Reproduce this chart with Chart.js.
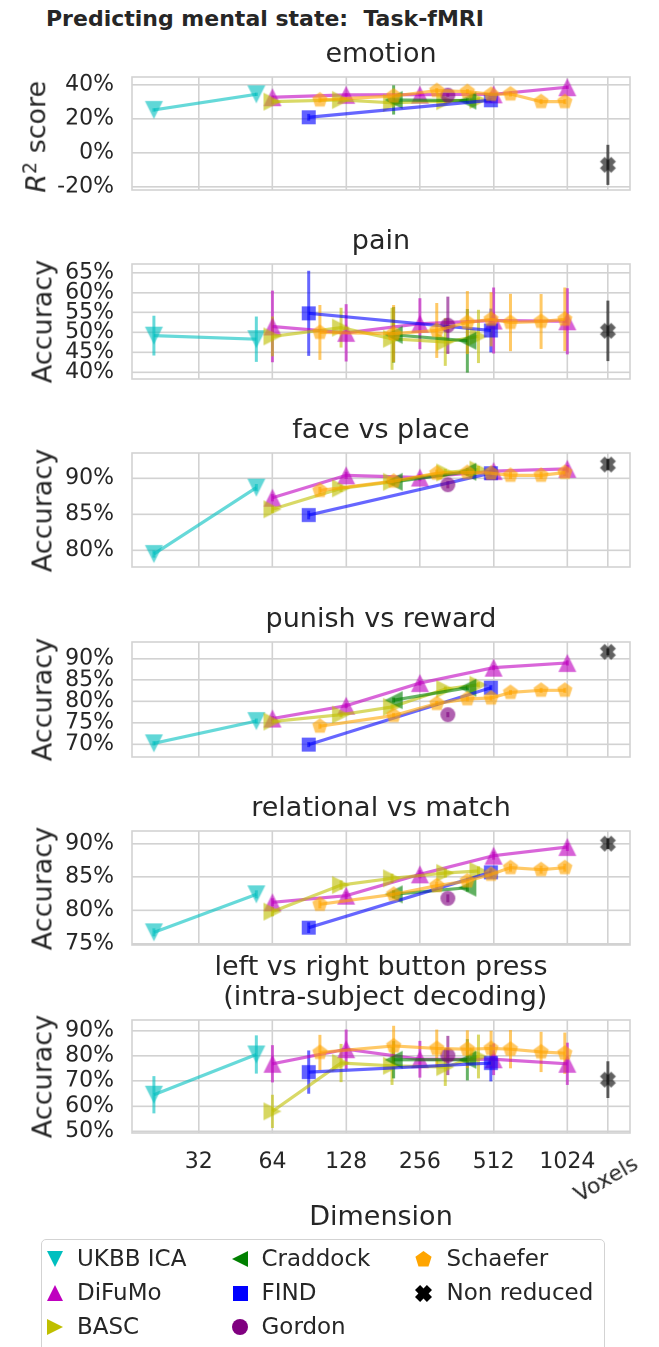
<!DOCTYPE html>
<html>
<head>
<meta charset="utf-8">
<script src="https://cdn.jsdelivr.net/npm/chart.js@4.4.1/dist/chart.umd.min.js"></script>
<style>
  body { margin: 0; background: #fff; }
  #page { position: relative; width: 659px; height: 1347px; overflow: hidden; font-family: "DejaVu Sans"; color: #262626; }
  #page canvas { position: absolute; left: 0; }
  .txt { position: absolute; white-space: nowrap; }
  #legend { position: absolute; left: 41px; top: 1239px; width: 562px; height: 140px; border: 1.5px solid #d3d3d3; border-radius: 5px; }
</style>
</head>
<body>
<div id="page"></div>
<script>
// ---- data ----
const tasks = ["emotion", "pain", "face vs place", "punish vs reward", "relational vs match",
               "left vs right button press\n (intra-subject decoding)"];
const yTitles = ["<i>R</i><sup style='font-size:0.7em;vertical-align:0.5em'>2</sup> score",
                 "Accuracy", "Accuracy", "Accuracy", "Accuracy", "Accuracy"];
const yTicks = [[-20, 0, 20, 40], [40, 45, 50, 55, 60, 65], [80, 85, 90],
                [70, 75, 80, 85, 90], [75, 80, 85, 90], [50, 60, 70, 80, 90]];
const xTickDims = [32, 64, 128, 256, 512, 1024];
const voxelsLabel = "Voxels";

const ukbbDims = [21, 55];
const ukbbVals = [[25.3, 34.5], [49.2, 48.3], [79.5, 88.7], [70.2, 75.4], [76.7, 82.4], [64.5, 80.5]];
const ukbbErrs = [[1, 1], [5.0, 5.7], [0.5, 0.5], [0.5, 0.6], [0.6, 0.6], [7.4, 7.6]];

const difumoDims = [64, 128, 256, 512, 1024];
const difumoVals = [[32.8, 34.2, 34.3, 34.5, 38.7], [51.5, 49.9, 52.2, 53.0, 52.8], [87.3, 90.4, 90.1, 91.0, 91.3],
                    [76.0, 79.0, 84.3, 87.9, 89.0], [81.2, 82.2, 85.4, 88.2, 89.5], [76.8, 82.6, 78.6, 78.6, 76.8]];
const difumoErrs = [[1, 1, 1, 1, 1], [9, 7.2, 6.4, 8.3, 8.3], [0.5, 0.5, 0.5, 0.5, 0.5],
                    [0.6, 0.6, 0.6, 0.6, 0.6], [0.6, 0.6, 0.6, 0.6, 0.6], [7.4, 7.8, 7.3, 6.3, 8.4]];

const bascDims = [64, 122, 197, 325, 444];
const bascVals = [[30.2, 31.2, 29.5, 30.5, 31.2], [49.0, 51.2, 48.4, 47.6, 49.0], [85.7, 88.6, 89.5, 90.8, 91.2],
                  [75.3, 76.9, 78.7, 82.9, 83.9], [79.8, 83.8, 84.8, 85.6, 85.9], [57.9, 77.1, 76.0, 75.5, 79.7]];
const bascErrs = [[1.5, 1.5, 1.5, 1.5, 1.5], [5, 5, 7.8, 6, 6.7], [0.5, 0.5, 0.5, 0.5, 0.5],
                  [0.6, 0.6, 0.6, 0.6, 0.6], [0.7, 0.7, 0.7, 0.7, 0.7], [6.6, 7.6, 7.6, 7.5, 8.7]];

const craddockDims = [200, 400];
const craddockVals = [[31.2, 30.8], [49.4, 47.9], [89.5, 90.9], [80.3, 83.2], [82.4, 83.4], [78.4, 78.4]];
const craddockErrs = [[8.6, 1.5], [7, 8], [0.5, 0.5], [0.6, 0.6], [0.6, 0.6], [7.4, 8.2]];

const findDims = [90, 499];
const findVals = [[21, 31], [54.8, 50.5], [84.9, 90.7], [69.9, 83.2], [77.4, 85.7], [73.5, 77.1]];
const findErrs = [[2, 1.5], [10.7, 5.5], [0.6, 0.5], [0.6, 0.6], [0.8, 0.6], [8.6, 7.3]];

const gordonDims = [333];
const gordonVals = [[34], [51.8], [89.1], [76.9], [81.8], [80.1]];
const gordonErrs = [[1], [7.2], [0.5], [0.6], [0.6], [7.8]];

const schaeferDims = [100, 200, 300, 400, 500, 600, 800, 1000];
const schaeferVals = [[31.2, 33.5, 36.7, 36.1, 34.5, 34.7, 30.2, 30.2],
                      [50.0, 49.7, 50.5, 52.5, 53.3, 52.5, 52.75, 53.3],
                      [88.3, 89.6, 90.7, 90.8, 90.7, 90.4, 90.4, 90.8],
                      [74.2, 76.7, 79.5, 80.6, 80.8, 82.1, 82.6, 82.6],
                      [80.9, 82.4, 83.7, 84.4, 85.4, 86.4, 86.1, 86.4],
                      [81.3, 83.9, 82.9, 82.6, 82.9, 82.6, 81.5, 81.0]];
const schaeferErrs = [[1.5, 1.5, 1.5, 1.5, 1.5, 1.5, 1.5, 1.5], [6.9, 7.2, 6.9, 7.9, 6.8, 7.2, 6.9, 8],
                      [0.5, 0.5, 0.5, 0.5, 0.5, 0.5, 0.5, 0.5], [0.6, 0.6, 0.6, 0.6, 0.6, 0.6, 0.6, 0.6],
                      [0.6, 0.6, 0.6, 0.6, 0.6, 0.6, 0.6, 0.6], [7, 8, 7.5, 7.5, 7, 7.6, 8, 8.2]];

const nonReducedVals = [-7, 50.4, 91.9, 91.6, 90.0, 70.5];
const nonReducedErrs = [11.8, 7.6, 0.8, 0.8, 0.8, 7.3];

// ---- styling ----
const series = [
  { name: "UKBB ICA", dims: ukbbDims, vals: ukbbVals, errs: ukbbErrs, rgb: "0,191,191", shape: "v" },
  { name: "DiFuMo", dims: difumoDims, vals: difumoVals, errs: difumoErrs, rgb: "191,0,191", shape: "^" },
  { name: "BASC", dims: bascDims, vals: bascVals, errs: bascErrs, rgb: "191,191,0", shape: ">" },
  { name: "Craddock", dims: craddockDims, vals: craddockVals, errs: craddockErrs, rgb: "0,128,0", shape: "<" },
  { name: "FIND", dims: findDims, vals: findVals, errs: findErrs, rgb: "0,0,255", shape: "s" },
  { name: "Gordon", dims: gordonDims, vals: gordonVals, errs: gordonErrs, rgb: "128,0,128", shape: "o" },
  { name: "Schaefer", dims: schaeferDims, vals: schaeferVals, errs: schaeferErrs, rgb: "255,165,0", shape: "p" },
  { name: "Non reduced", dims: null, vals: nonReducedVals.map(v => [v]), errs: nonReducedErrs.map(v => [v]), rgb: "0,0,0", shape: "X" }
];
const markerSize = { v: 18, "^": 18, ">": 18, "<": 18, s: 14, o: 15, p: 16, X: 16 };
const legendSize = { v: 16, "^": 16, ">": 16, "<": 16, s: 15, o: 16, p: 17, X: 17 };

const voxelsPos = 10.55;            // where "Voxels" sits on the log2 axis
const xMin = 4.095, xMax = 10.85;
const yRanges = [[-21.8, 44.7], [38.3, 67.2], [77.7, 93.5], [67.0, 93.9], [74.8, 91.9], [49.3, 94.2]];
const boxes = [[77, 190], [264, 379], [453, 567], [642, 757], [831, 945], [1020, 1133]];
const gridColor = "#d2d2d2";

Chart.defaults.font.family = "DejaVu Sans";

const page = document.getElementById("page");

function drawShape(g, shape, cx, cy, size) {
  const h = size / 2;
  g.beginPath();
  if (shape === "v") { g.moveTo(cx - h, cy - h); g.lineTo(cx + h, cy - h); g.lineTo(cx, cy + h); }
  else if (shape === "^") { g.moveTo(cx - h, cy + h); g.lineTo(cx + h, cy + h); g.lineTo(cx, cy - h); }
  else if (shape === ">") { g.moveTo(cx - h, cy - h); g.lineTo(cx - h, cy + h); g.lineTo(cx + h, cy); }
  else if (shape === "<") { g.moveTo(cx + h, cy - h); g.lineTo(cx + h, cy + h); g.lineTo(cx - h, cy); }
  else if (shape === "s") { g.rect(cx - h, cy - h, size, size); }
  else if (shape === "o") { g.arc(cx, cy, h, 0, Math.PI * 2); }
  else if (shape === "p") {
    for (let k = 0; k < 5; k++) {
      const a = -Math.PI / 2 + k * 2 * Math.PI / 5;
      k ? g.lineTo(cx + h * Math.cos(a), cy + h * Math.sin(a)) : g.moveTo(cx + h * Math.cos(a), cy + h * Math.sin(a));
    }
  } else if (shape === "X") {
    const w = size * 0.3;
    const pts = [[-h, -h + w], [-h + w, -h], [0, -w], [h - w, -h], [h, -h + w], [w, 0],
                 [h, h - w], [h - w, h], [0, w], [-h + w, h], [-h, h - w], [-w, 0]];
    pts.forEach((p, i) => i ? g.lineTo(cx + p[0], cy + p[1]) : g.moveTo(cx + p[0], cy + p[1]));
  }
  g.closePath();
  g.fill();
}

function markerCanvas(shape, color, size) {
  const c = document.createElement("canvas");
  const S = Math.ceil(size + 4);
  c.width = c.height = S;
  const g = c.getContext("2d");
  g.fillStyle = color;
  drawShape(g, shape, S / 2, S / 2, size);
  return c;
}

const errorBars = {
  id: "errorBars",
  beforeDatasetsDraw(chart) {
    const { ctx, chartArea: a, scales: { x, y } } = chart;
    ctx.save();
    // frame
    ctx.strokeStyle = gridColor;
    ctx.lineWidth = 1.6;
    ctx.strokeRect(a.left, a.top, a.width, a.height);
    ctx.beginPath();
    ctx.rect(a.left, a.top, a.width, a.height);
    ctx.clip();
    chart.data.datasets.forEach(ds => {
      ctx.strokeStyle = ds.borderColor;
      ctx.lineWidth = 3;
      ds.data.forEach((pt, j) => {
        const e = ds.errs[j];
        const px = x.getPixelForValue(pt.x);
        ctx.beginPath();
        ctx.moveTo(px, y.getPixelForValue(pt.y - e));
        ctx.lineTo(px, y.getPixelForValue(pt.y + e));
        ctx.stroke();
      });
    });
    ctx.restore();
  }
};

function addText(html, x, baseline, size, opts = {}) {
  const d = document.createElement("div");
  d.className = "txt";
  d.innerHTML = html;
  d.style.fontSize = size + "px";
  d.style.lineHeight = size + "px";
  if (opts.bold) d.style.fontWeight = "bold";
  d.style.top = (baseline - 0.846 * size) + "px";
  if (opts.align === "left") d.style.left = x + "px";
  else { d.style.left = (x - 400) + "px"; d.style.width = "800px"; d.style.textAlign = "center"; }
  page.appendChild(d);
  return d;
}

function addRotated(html, cx, cy, size, deg) {
  const d = document.createElement("div");
  d.className = "txt";
  d.innerHTML = html;
  d.style.fontSize = size + "px";
  d.style.lineHeight = size + "px";
  d.style.width = "300px";
  d.style.textAlign = "center";
  d.style.left = (cx - 150) + "px";
  d.style.top = (cy - size / 2) + "px";
  d.style.transform = "rotate(" + deg + "deg)";
  page.appendChild(d);
}

addText("Predicting mental state:&nbsp; Task-fMRI", 46, 27, 22, { align: "left", bold: true });

tasks.forEach((task, p) => {
  const [T, B] = boxes[p];
  const last = p === tasks.length - 1;
  const extra = last ? 44 : 0;
  const top = T - 10;
  const h = B - top + 10 + extra;
  const cv = document.createElement("canvas");
  cv.style.top = top + "px";
  cv.style.width = "659px";
  cv.style.height = h + "px";
  cv.width = 659; cv.height = h;
  page.appendChild(cv);

  const datasets = series.map((s, i) => {
    const xs = s.dims ? s.dims.map(d => Math.log2(d)) : [voxelsPos];
    const col = "rgba(" + s.rgb + ",0.6)";
    return {
      label: s.name,
      data: xs.map((xv, j) => ({ x: xv, y: s.vals[p][j] })),
      errs: s.errs[p],
      borderColor: col,
      borderWidth: 3.2,
      pointStyle: markerCanvas(s.shape, "rgba(" + s.rgb + ",0.62)", markerSize[s.shape]),
      pointRadius: 9,
      pointBorderWidth: 0,
      showLine: xs.length > 1,
      fill: false,
      tension: 0,
      order: series.length - i
    };
  });

  new Chart(cv, {
    type: "line",
    data: { datasets },
    options: {
      responsive: false,
      animation: false,
      devicePixelRatio: 2,
      layout: { padding: { left: 0, right: 29, top: 10, bottom: 10 } },
      plugins: { legend: { display: false }, tooltip: { enabled: false } },
      scales: {
        x: {
          type: "linear", min: xMin, max: xMax,
          afterBuildTicks: s => { s.ticks = xTickDims.map(d => ({ value: Math.log2(d) })).concat([{ value: voxelsPos }]); },
          afterFit: s => { s.height = extra; s.paddingLeft = 0; s.paddingRight = 0; },
          ticks: {
            display: last, autoSkip: false, maxRotation: 0, padding: 16,
            color: "#262626", font: { size: 22 },
            callback: v => v > 10.2 ? "" : String(Math.round(Math.pow(2, v)))
          },
          grid: { color: gridColor, lineWidth: 1.6, drawTicks: false },
          border: { display: false }
        },
        y: {
          min: yRanges[p][0], max: yRanges[p][1],
          afterBuildTicks: s => { s.ticks = yTicks[p].map(v => ({ value: v })); },
          afterFit: s => { s.width = 132; s.paddingTop = 0; s.paddingBottom = 0; },
          ticks: { color: "#262626", font: { size: 22 }, padding: 18, autoSkip: false, callback: v => v + "%" },
          grid: { color: gridColor, lineWidth: 1.6, drawTicks: false },
          border: { display: false }
        }
      }
    },
    plugins: [errorBars]
  });

  const lines = task.split("\n");
  lines.forEach((ln, k) => addText(ln.replace(/ /g, "&nbsp;"), 381, T - 15 - (lines.length - 1 - k) * 30, 27));
  addRotated(yTitles[p], p === 0 ? 32.7 : 41.7, (T + B) / 2, 27, -90);
});

addText("Dimension", 381, 1225, 27);
addRotated(voxelsLabel, 606, 1178.5, 22, -30);

// legend
const legend = document.createElement("div");
legend.id = "legend";
page.appendChild(legend);
const colX = [[55, 77], [240, 261.5], [423, 446.5]];
const rowBase = [1266.5, 1300.5, 1334];
series.forEach((s, i) => {
  const col = Math.floor(i / 3), row = i % 3;
  const m = markerCanvas(s.shape, "rgb(" + s.rgb + ")", legendSize[s.shape]);
  m.style.position = "absolute";
  m.style.left = (colX[col][0] - m.width / 2) + "px";
  m.style.top = (rowBase[row] - 7.5 - m.height / 2) + "px";
  page.appendChild(m);
  addText(s.name, colX[col][1], rowBase[row], 23, { align: "left" });
});
</script>
</body>
</html>
